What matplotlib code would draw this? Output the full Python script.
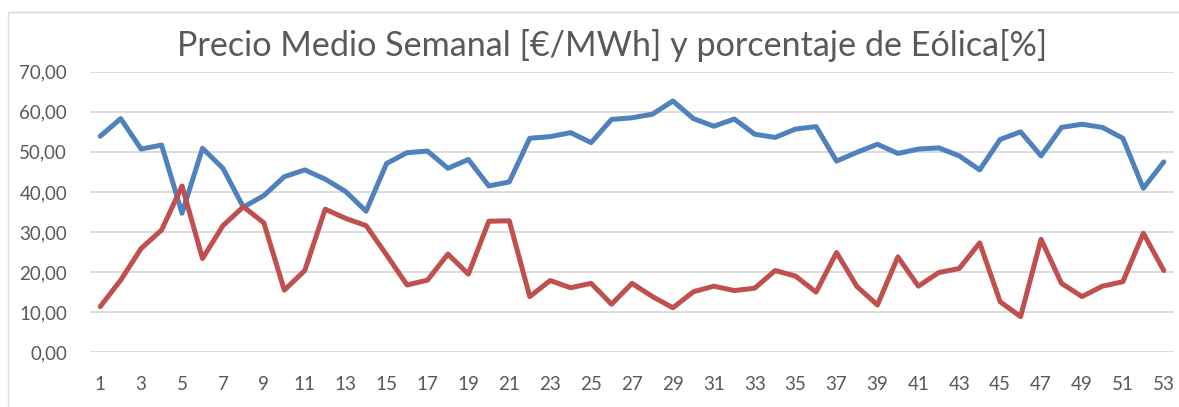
import matplotlib
matplotlib.use("Agg")
import matplotlib.pyplot as plt
from matplotlib.patches import Rectangle

weeks = list(range(1, 54))
precio = [53.9, 58.3, 50.7, 51.7, 34.7, 50.9, 45.9, 36.2, 39.1, 43.8,
          45.5, 43.2, 40.1, 35.2, 47.1, 49.8, 50.2, 45.9, 48.1, 41.5,
          42.5, 53.4, 53.8, 54.8, 52.3, 58.1, 58.5, 59.4, 62.7, 58.3,
          56.4, 58.2, 54.4, 53.6, 55.7, 56.3, 47.7, 49.9, 51.9, 49.6,
          50.7, 51.0, 49.0, 45.5, 53.1, 55.0, 49.0, 56.1, 56.9, 56.1,
          53.4, 40.9, 47.5]
eolica = [11.4, 18.0, 25.9, 30.5, 41.5, 23.4, 31.6, 36.3, 32.3, 15.5,
          20.4, 35.7, 33.4, 31.6, 24.3, 16.8, 18.0, 24.5, 19.5, 32.7,
          32.8, 13.9, 17.9, 16.1, 17.2, 12.0, 17.2, 13.9, 11.1, 15.1,
          16.5, 15.4, 16.0, 20.4, 19.0, 15.0, 24.9, 16.4, 11.8, 23.8,
          16.5, 19.9, 20.9, 27.3, 12.6, 8.9, 28.2, 17.2, 13.9, 16.5,
          17.6, 29.7, 20.4]
y_ticks = [0, 10, 20, 30, 40, 50, 60, 70]
x_ticks = list(range(1, 54, 2))
title = "Precio Medio Semanal [€/MWh] y porcentaje de Eólica[%]"

plt.rcParams['font.family'] = ['Lato', 'DejaVu Sans']
text_color = "#595959"

fig = plt.figure(figsize=(11.79, 4.07), dpi=100)
fig.patches.append(Rectangle((8 / 1179, -0.1), 1.2, 1 - 12 / 407 + 0.1,
                             transform=fig.transFigure, fill=False,
                             edgecolor="#D9D9D9", linewidth=1.0))

ax = fig.add_axes([90 / 1179, 1 - 352.3 / 407, (1174 - 90) / 1179, (352.3 - 71.7) / 407])
ax.plot(weeks, precio, color="#4F81BD", linewidth=3.6, solid_joinstyle="round",
        solid_capstyle="round", zorder=3)
ax.plot(weeks, eolica, color="#C0504D", linewidth=3.6, solid_joinstyle="round",
        solid_capstyle="round", zorder=3)

ax.set_xlim(0.5, 53.5)
ax.set_ylim(0, 70)
ax.set_yticks(y_ticks)
ax.set_yticklabels([f"{v:.2f}".replace(".", ",") for v in y_ticks])
ax.set_xticks(x_ticks)
ax.set_xticklabels([str(v) for v in x_ticks])
ax.tick_params(axis="both", length=0, labelsize=13.5, colors=text_color)
ax.tick_params(axis="y", pad=16.5)
ax.tick_params(axis="x", pad=17)
ax.grid(axis="y", color="#D9D9D9", linewidth=1.3, zorder=0)
for s in ax.spines.values():
    s.set_visible(False)

fig.text(612 / 1179, 1 - 45 / 407, title, ha="center", va="center",
         fontsize=24.6, color=text_color)

fig.savefig("out.png", dpi=100)
